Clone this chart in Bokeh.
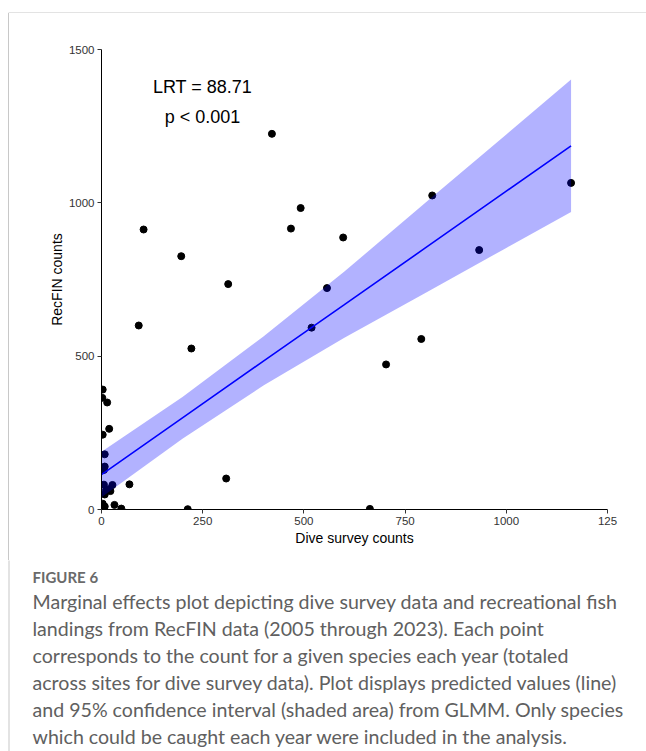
from bokeh.plotting import figure
from bokeh.models import Range1d, Label, FixedTicker, Spacer
from bokeh.layouts import column, row
from bokeh.embed import file_html
from bokeh.resources import INLINE

# ---- data ----
dive_counts = [421, 492, 468, 597, 104, 197, 313, 557, 519, 92, 222, 703, 817, 1160, 933, 790,
               308, 213, 663,
               3, 2, 14, 19, 3, 8, 8, 6, 6, 27, 20, 22, 11, 8, 69, 3, 8, 32, 49, 4]
recfin_counts = [1225, 983, 916, 887, 913, 826, 735, 722, 593, 600, 525, 473, 1024, 1065, 846, 556,
                 101, 1, 2,
                 391, 364, 349, 263, 244, 180, 140, 129, 81, 80, 67, 60, 62, 49, 82, 19, 10, 15, 3, 2]

fit_x = [0, 200, 400, 600, 800, 1000, 1160]
fit_pred = [114, 299, 484, 668, 853, 1038, 1186]
fit_upper = [188, 367, 564, 776, 1000, 1223, 1402]
fit_lower = [40, 231, 404, 560, 706, 853, 970]

x_ticks = [0, 250, 500, 750, 1000, 1250]
y_ticks = [0, 500, 1000, 1500]

stat_lines = ["LRT = 88.71", "p < 0.001"]
caption_head = "FIGURE 6"
caption_lines = [
    "Marginal effects plot depicting dive survey data and recreational fish",
    "landings from RecFIN data (2005 through 2023). Each point",
    "corresponds to the count for a given species each year (totaled",
    "across sites for dive survey data). Plot displays predicted values (line)",
    "and 95% confidence interval (shaded area) from GLMM. Only species",
    "which could be caught each year were included in the analysis.",
]

# ---- page geometry (pixels) ----
W, H = 646, 751
BX, BY = 9, 13          # box line offsets
CHART_BOTTOM = 560      # page y where caption area begins
FL, FR, FT, FB = 101, 607, 49, 509   # frame in page pixels
BORDER = "#c8c8c8"


def blank(width, height, xr, yr):
    f = figure(width=width, height=height, output_backend="svg", toolbar_location=None,
               x_range=xr, y_range=yr, x_axis_location=None, y_axis_location=None,
               min_border=0, min_border_left=0, min_border_right=0,
               min_border_top=0, min_border_bottom=0, sizing_mode="fixed")
    f.title.visible = False
    f.outline_line_color = None
    f.grid.visible = False
    f.background_fill_color = "white"
    f.border_fill_color = "white"
    return f


# top strip with the box's top line
top = blank(W, BY, Range1d(0, W), Range1d(BY, 0))
top.quad(left=[BX - 1], right=[W], top=[BY - 1], bottom=[BY], fill_color=BORDER, line_color=None)

# main chart
cw, ch = W - BX, CHART_BOTTOM - BY
p = figure(width=cw, height=ch, output_backend="svg", toolbar_location=None,
           x_range=Range1d(0, 1250), y_range=Range1d(0, 1500), sizing_mode="fixed",
           min_border_left=FL - BX, min_border_right=W - FR,
           min_border_top=FT - BY, min_border_bottom=CHART_BOTTOM - FB,
           styles={"box-shadow": "-1px 0px 0px 0px " + BORDER})
p.title.visible = False
p.outline_line_color = None
p.xgrid.visible = False
p.ygrid.visible = False
p.background_fill_color = "white"
p.border_fill_color = "white"

p.scatter(dive_counts, recfin_counts, size=7, color="black")
p.varea(x=fit_x, y1=fit_lower, y2=fit_upper, fill_color="blue", fill_alpha=0.3)
p.line(fit_x, fit_pred, line_color="blue", line_width=1.6)

p.xaxis.ticker = FixedTicker(ticks=x_ticks)
p.yaxis.ticker = FixedTicker(ticks=y_ticks)
p.xaxis.major_label_overrides = {1250: "125"}
for ax in (p.xaxis[0], p.yaxis[0]):
    ax.axis_line_color = "black"
    ax.axis_line_width = 1
    ax.major_tick_line_color = "#333333"
    ax.major_tick_out = 4
    ax.major_tick_in = 0
    ax.minor_tick_line_color = None
    ax.major_label_text_font = "Liberation Sans"
    ax.major_label_text_font_size = "11.5px"
    ax.major_label_text_color = "#333333"
    ax.major_label_standoff = 3
    ax.axis_label_text_font = "Liberation Sans"
    ax.axis_label_text_font_size = "14px"
    ax.axis_label_text_font_style = "normal"
    ax.axis_label_text_color = "black"
p.xaxis.axis_label = "Dive survey counts"
p.yaxis.axis_label = "RecFIN counts"
p.xaxis.axis_label_standoff = 2
p.yaxis.axis_label_standoff = 1

# statistics text placed in page pixels
p.extra_x_ranges = {"px": Range1d(FL, FR)}
p.extra_y_ranges = {"py": Range1d(FB, FT)}
for txt, yb in zip(stat_lines, [86, 116]):
    p.add_layout(Label(x=202, y=yb, x_range_name="px", y_range_name="py", text=txt,
                       text_align="center", text_baseline="alphabetic",
                       text_font="Liberation Sans", text_font_size="18px", text_color="black"))

# caption area
cap = blank(W, H - CHART_BOTTOM, Range1d(0, W), Range1d(H, CHART_BOTTOM))
cap.quad(left=[BX - 1], right=[BX], top=[CHART_BOTTOM - 2], bottom=[H + 2],
         fill_color=BORDER, line_color=None)
cap.add_layout(Label(x=32, y=576, text=caption_head,
                     text_align="left", text_baseline="alphabetic",
                     text_font="Lato", text_font_size="15px", text_font_style="bold",
                     text_color="#6a6a6a"))
for i, line in enumerate(caption_lines):
    cap.add_layout(Label(x=32, y=601 + 27 * i, text=line,
                         text_align="left", text_baseline="alphabetic",
                         text_font="Lato", text_font_size="19.6px", text_color="#606060"))

layout = column(top, row(Spacer(width=BX, height=ch), p, sizing_mode="fixed"), cap,
                sizing_mode="fixed")
open("out.html", "w").write(file_html(layout, INLINE))
